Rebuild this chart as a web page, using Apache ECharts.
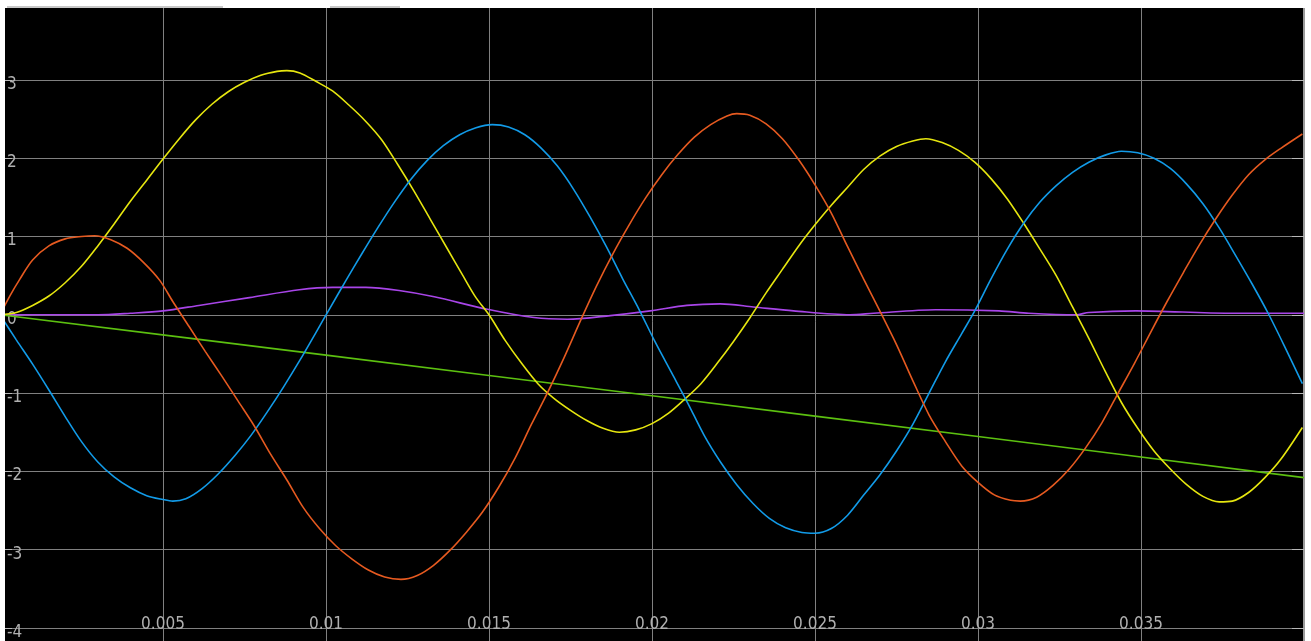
<!DOCTYPE html>
<html>
<head>
<meta charset="utf-8">
<script src="https://cdn.jsdelivr.net/npm/echarts@6/dist/echarts.min.js"></script>
<style>
html,body{margin:0;padding:0;background:#fff;}
#chart{width:1311px;height:641px;}
</style>
</head>
<body>
<div id="chart"></div>
<script>
// ---- data (time in s, value) ----
const xTicks = [0.005, 0.01, 0.015, 0.02, 0.025, 0.03, 0.035];
const yTicks = [-4, -3, -2, -1, 0, 1, 2, 3];

const tBlue = [0,0.0005,0.001,0.0015,0.002,0.0025,0.003,0.0035,0.004,0.0045,0.005,0.0053,0.0057,0.0062,0.0067,0.0072,0.0077,0.0082,0.0087,0.0092,0.0097,0.0101,0.0106,0.0111,0.0116,0.0121,0.0126,0.0131,0.0136,0.0141,0.0146,0.0151,0.0156,0.0161,0.0166,0.0171,0.0176,0.0181,0.0186,0.0191,0.0196,0.0201,0.0206,0.0211,0.0216,0.0221,0.0226,0.0231,0.0236,0.0241,0.0246,0.025,0.0255,0.026,0.0265,0.027,0.0275,0.028,0.0285,0.029,0.0295,0.0299,0.0304,0.0309,0.0314,0.0319,0.0324,0.0329,0.0334,0.0339,0.0344,0.0349,0.0354,0.0359,0.0364,0.0369,0.0374,0.0379,0.0384,0.0389,0.0394,0.03995];
const vBlue = [0,-0.32,-0.63,-0.96,-1.3,-1.62,-1.88,-2.07,-2.21,-2.31,-2.36,-2.38,-2.35,-2.22,-2.03,-1.8,-1.54,-1.24,-0.92,-0.58,-0.22,0.07,0.43,0.78,1.12,1.44,1.73,1.97,2.16,2.3,2.39,2.43,2.4,2.3,2.13,1.9,1.6,1.25,0.87,0.46,0.07,-0.35,-0.74,-1.13,-1.54,-1.88,-2.17,-2.41,-2.6,-2.72,-2.78,-2.79,-2.73,-2.56,-2.3,-2.04,-1.74,-1.4,-1.0,-0.6,-0.24,0.05,0.46,0.84,1.17,1.44,1.65,1.82,1.95,2.04,2.09,2.07,2.0,1.87,1.67,1.42,1.11,0.76,0.4,0.02,-0.4,-0.88];

const tOrange = [0,0.0003,0.0006,0.001,0.0015,0.002,0.0025,0.0029,0.0034,0.0039,0.0044,0.0049,0.0053,0.0058,0.0063,0.0068,0.0073,0.0078,0.0083,0.0088,0.0093,0.0098,0.0103,0.0108,0.0113,0.0118,0.0123,0.0128,0.0133,0.0138,0.0143,0.0148,0.0153,0.0158,0.0163,0.0168,0.0173,0.0178,0.0183,0.0188,0.0193,0.0198,0.0203,0.0208,0.0213,0.0218,0.0223,0.0226,0.023,0.0235,0.024,0.0245,0.025,0.0255,0.026,0.0265,0.027,0.0275,0.028,0.0285,0.029,0.0295,0.03,0.0305,0.031,0.0313,0.0318,0.0323,0.0328,0.0333,0.0338,0.0343,0.0348,0.0353,0.0358,0.0363,0.0368,0.0373,0.0378,0.0383,0.0388,0.0393,0.03995];
const vOrange = [0,0.24,0.45,0.7,0.88,0.97,1.0,1.01,0.96,0.85,0.67,0.44,0.17,-0.15,-0.47,-0.78,-1.1,-1.42,-1.78,-2.11,-2.46,-2.73,-2.95,-3.12,-3.26,-3.35,-3.38,-3.33,-3.2,-3.01,-2.78,-2.52,-2.2,-1.83,-1.4,-0.99,-0.55,-0.08,0.37,0.78,1.15,1.49,1.79,2.05,2.27,2.43,2.54,2.57,2.55,2.44,2.25,1.98,1.66,1.3,0.87,0.45,0.04,-0.38,-0.84,-1.28,-1.62,-1.93,-2.14,-2.3,-2.37,-2.38,-2.33,-2.18,-1.97,-1.7,-1.38,-1.0,-0.62,-0.22,0.17,0.54,0.9,1.23,1.53,1.79,1.98,2.13,2.31];

const tYellow = [0,0.0005,0.001,0.0015,0.002,0.0025,0.003,0.0035,0.004,0.0045,0.005,0.0055,0.006,0.0065,0.007,0.0075,0.008,0.0085,0.0088,0.0092,0.0097,0.0102,0.0107,0.0112,0.0117,0.0122,0.0127,0.0132,0.0137,0.0142,0.0146,0.015,0.0155,0.016,0.0165,0.017,0.0175,0.018,0.0185,0.019,0.0195,0.02,0.0205,0.021,0.0215,0.022,0.0225,0.023,0.0235,0.024,0.0245,0.025,0.0255,0.026,0.0265,0.027,0.0275,0.028,0.0284,0.0289,0.0294,0.0299,0.0304,0.0309,0.0314,0.0319,0.0324,0.0329,0.0334,0.0339,0.0344,0.0349,0.0354,0.0359,0.0364,0.0369,0.0374,0.0378,0.0383,0.0388,0.0393,0.03995];
const vYellow = [0,0.03,0.12,0.24,0.41,0.62,0.88,1.16,1.45,1.72,1.99,2.25,2.49,2.69,2.85,2.97,3.06,3.11,3.12,3.09,2.98,2.86,2.68,2.48,2.24,1.92,1.58,1.22,0.86,0.5,0.22,0,-0.33,-0.62,-0.88,-1.07,-1.22,-1.35,-1.45,-1.5,-1.47,-1.39,-1.26,-1.08,-0.88,-0.62,-0.34,-0.04,0.28,0.58,0.88,1.15,1.4,1.63,1.86,2.03,2.15,2.22,2.25,2.2,2.1,1.95,1.74,1.48,1.17,0.84,0.5,0.1,-0.3,-0.72,-1.12,-1.45,-1.74,-1.97,-2.17,-2.32,-2.39,-2.38,-2.27,-2.08,-1.84,-1.44];

const tPurple = [0,0.003,0.004,0.005,0.0061,0.00765,0.00918,0.0102,0.01122,0.01224,0.01332,0.01495,0.01638,0.0174,0.01872,0.01995,0.02107,0.02209,0.02311,0.02434,0.02607,0.0268,0.0287,0.03064,0.03156,0.033,0.0334,0.03484,0.0377,0.04];
const vPurple = [0,0,0.02,0.05,0.12,0.22,0.32,0.35,0.35,0.31,0.23,0.07,-0.035,-0.056,-0.01,0.05,0.12,0.14,0.1,0.05,0,0.02,0.065,0.05,0.02,0,0.03,0.05,0.02,0.02];

const tGreen = [0,0.01,0.02,0.03,0.04];
const vGreen = [0,-0.515,-1.035,-1.555,-2.08];

function zip(t, v){ return t.map((x,i)=>[x, v[i]]); }

const chart = echarts.init(document.getElementById('chart'), null, {renderer:'canvas'});
const labelFont = "'Liberation Sans Narrow','DejaVu Sans Condensed','Liberation Sans',sans-serif";
const gridColor = '#808080';

function line(name, color, t, v){
  return {
    name, type:'line', data: zip(t, v), showSymbol:false, smooth:0.3,
    lineStyle:{color, width:1.6}, itemStyle:{color}, animation:false, z:3
  };
}

chart.setOption({
  backgroundColor:'#ffffff',
  animation:false,
  grid:{ left:0, top:1.7, width:1304, height:704.5, show:true, backgroundColor:'#000000', borderWidth:0, outerBoundsMode:'none', containLabel:false },
  xAxis:{
    type:'value', min:0, max:0.04, interval:0.005,
    axisLine:{show:false}, axisTick:{show:false},
    splitLine:{show:true, lineStyle:{color:gridColor, width:1}},
    axisLabel:{
      inside:true, margin:73, color:'#b0b0b0', fontSize:17, fontFamily:labelFont,
      verticalAlign:'bottom',
      formatter:function(v){ const r = +v.toFixed(4); return xTicks.some(x=>Math.abs(x-r)<1e-9) ? String(r) : ''; }
    }
  },
  yAxis:[{
    type:'value', min:-5, max:4, interval:1,
    axisLine:{show:false},
    axisTick:{show:true, inside:true, length:12, lineStyle:{color:'#b8b8b8'}},
    splitLine:{show:true, lineStyle:{color:gridColor, width:1}},
    axisLabel:{
      inside:true, margin:7, color:'#b0b0b0', fontSize:17, fontFamily:labelFont,
      formatter:function(v){ return yTicks.indexOf(v) >= 0 ? '{v|' + v + '}' : ''; },
      rich:{ v:{ color:'#b0b0b0', fontSize:17, fontFamily:labelFont, padding:[9,0,0,0] } }
    }
  },{
    type:'value', min:-5, max:4, interval:1, position:'right',
    axisLine:{show:true, lineStyle:{color:'#9a9a9a', width:2}},
    axisTick:{show:true, inside:true, length:12, lineStyle:{color:'#b8b8b8'}},
    splitLine:{show:false}, axisLabel:{show:false}
  }],
  series:[
    line('s4', '#a845e8', tPurple, vPurple),
    line('s5', '#5cc010', tGreen, vGreen),
    line('s3', '#e6e60f', tYellow, vYellow),
    line('s1', '#129be8', tBlue, vBlue),
    line('s2', '#e65a20', tOrange, vOrange)
  ],
  graphic:[
    {type:'rect', shape:{x:0,y:0,width:1311,height:8}, style:{fill:'#ffffff'}, z:100},
    {type:'rect', shape:{x:7,y:6,width:216,height:2}, style:{fill:'#c8c8c8'}, z:101},
    {type:'rect', shape:{x:330,y:6,width:70,height:2}, style:{fill:'#c8c8c8'}, z:101},
    {type:'rect', shape:{x:0,y:0,width:5,height:641}, style:{fill:'#ffffff'}, z:100},
    {type:'rect', shape:{x:1305,y:0,width:6,height:641}, style:{fill:'#ffffff'}, z:100}
  ]
});
</script>
</body>
</html>
